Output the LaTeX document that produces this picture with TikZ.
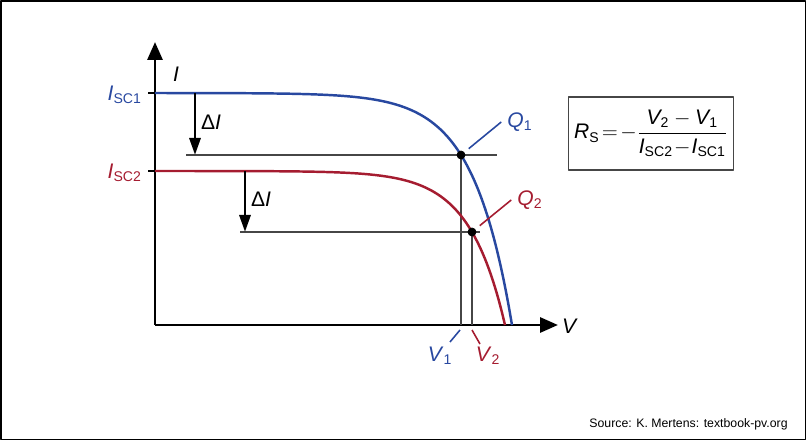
\documentclass[tikz,border=0pt]{standalone}
\usepackage{amsmath}
\usepackage{fontspec}
\setmainfont{Liberation Sans}
\usetikzlibrary{arrows.meta}
\definecolor{cblue}{RGB}{40,72,160}
\definecolor{cred}{RGB}{165,28,48}
\definecolor{cgrey}{RGB}{70,70,70}
\begin{document}
\begin{tikzpicture}[line join=round, >={Triangle[length=0.34cm,width=0.22cm]}, font=\fontsize{12}{14}\selectfont,
    axis/.style={line width=1.7pt,-{Triangle[length=0.36cm,width=0.3cm]}},
    guide/.style={cgrey,line width=0.75pt},
    curve/.style={line width=1.4pt,smooth,samples=120},
    leader/.style={line width=0.9pt,shorten <=0.2cm}]
    \useasboundingbox (-3.1,-2.34) rectangle (13.04,6.5);
    \draw[line width=0.9pt] (-3.08,-2.29) rectangle (13.01,6.48);
    % axes
    \coordinate (O) at (0,0);
    \draw[axis] (O) -- (0,5.66) coordinate (ytip);
    \draw[axis] (O) -- (8.06,0) coordinate (xtip);
    \node (lI) at (0.42,5.02) {\textit{I}};
    \node (lV) at (8.3,-0.02) {\textit{V}};
    % ticks
    \draw[line width=0.6pt] (-0.14,4.64) -- (0,4.64);
    \draw[line width=0.6pt] (-0.14,3.08) -- (0,3.08);
    \node[cblue,anchor=east] (lIsc1) at (-0.14,4.6) {\textit{I}\textsubscript{SC1}};
    \node[cred,anchor=east] (lIsc2) at (-0.14,3.04) {\textit{I}\textsubscript{SC2}};
    % operating points
    \coordinate (Q1) at (6.12,3.40);
    \coordinate (Q2) at (6.34,1.86);
    \coordinate (V1) at (Q1 |- O);
    \coordinate (V2) at (Q2 |- O);
    \draw[guide] (0.62,3.40) -- (Q1) -- (6.84,3.40);
    \draw[guide] (1.70,1.86) -- (Q2) -- (6.50,1.86);
    \draw[guide] (Q1) -- (V1);
    \draw[guide] (Q2) -- (V2);
    % curves
    \draw[curve,cblue,domain=0:7.14] plot(\x,{4.64*(1-exp((\x-7.14)/0.773))});
    \draw[curve,cred,domain=0:7] plot(\x,{3.08*(1-exp((\x-7)/0.713))});
    \draw[fill=black]
    (Q1) circle(0.08)
    (Q2) circle(0.08)
    ;
    % delta I
    \draw[line width=1.7pt,->] (0.80,4.64) -- (0.80,3.40);
    \draw[line width=1.7pt,->] (1.80,3.08) -- (1.80,1.86);
    \node (dI1) at (1.12,4.06) {Δ\textit{I}};
    \node (dI2) at (2.12,2.52) {Δ\textit{I}};
    % labels
    \node[cblue] (lQ1) at (7.3,4.06) {\textit{Q}\textsubscript{1}};
    \node[cred] (lQ2) at (7.5,2.5) {\textit{Q}\textsubscript{2}};
    \draw[leader,cblue] (Q1) -- (lQ1.west);
    \draw[leader,cred] (Q2) -- (lQ2.west);
    \node[cblue] (lV1) at (5.7,-0.62) {\textit{V}\textsubscript{1}};
    \node[cred] (lV2) at (6.66,-0.62) {\textit{V}\textsubscript{2}};
    \draw[cblue,line width=0.9pt] (6.1,-0.1) -- (5.9,-0.34);
    \draw[cred,line width=0.9pt] (6.34,-0.1) -- (6.5,-0.38);
    % formula
    \node[draw=cgrey,line width=0.8pt,minimum width=3.24cm,minimum height=1.46cm] (rs) at (9.92,3.83)
    {$\textit{R}_{\textup{S}}\!=\!-\dfrac{\textit{V}_{\textup{2}}-\textit{V}_{\textup{1}}}{\textit{I}_{\textup{SC2}}\!-\!\textit{I}_{\textup{SC1}}}$};
    \node[anchor=base east,inner sep=0pt,font=\fontsize{7}{8}\selectfont] (src) at (12.66,-2.06) {Source: K. Mertens: textbook-pv.org};
\end{tikzpicture}
\end{document}
